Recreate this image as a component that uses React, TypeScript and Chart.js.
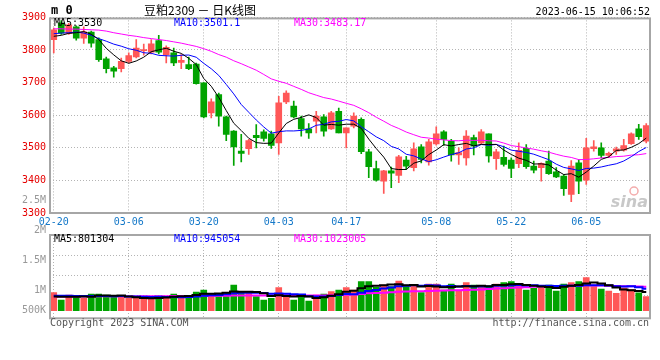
import { useEffect, useRef } from 'react';
import { Chart, registerables } from 'chart.js';

Chart.register(...registerables);

// ---------- data ----------
const dates = [
  '02-20', '02-21', '02-22', '02-23', '02-24', '02-27', '02-28',
  '03-01', '03-02', '03-03', '03-06', '03-07', '03-08', '03-09', '03-10',
  '03-13', '03-14', '03-15', '03-16', '03-17', '03-20', '03-21', '03-22',
  '03-23', '03-24', '03-27', '03-28', '03-29', '03-30', '03-31',
  '04-03', '04-04', '04-06', '04-07', '04-10', '04-11', '04-12', '04-13',
  '04-14', '04-17', '04-18', '04-19', '04-20', '04-21', '04-24', '04-25',
  '04-26', '04-27', '04-28',
  '05-04', '05-05', '05-08', '05-09', '05-10', '05-11', '05-12', '05-15',
  '05-16', '05-17', '05-18', '05-19', '05-22', '05-23', '05-24', '05-25',
  '05-26', '05-29', '05-30', '05-31',
  '06-01', '06-02', '06-05', '06-06', '06-07', '06-08', '06-09', '06-12',
  '06-13', '06-14', '06-15',
];

const opens = [
  3832, 3883, 3851, 3871, 3836, 3855, 3832, 3773, 3745, 3743,
  3765, 3779, 3798, 3793, 3829, 3786, 3791, 3762, 3755, 3757,
  3699, 3607, 3663, 3595, 3551, 3490, 3497, 3538, 3549, 3543,
  3515, 3641, 3628, 3590, 3558, 3582, 3595, 3558, 3612, 3546,
  3566, 3587, 3488, 3436, 3398, 3429, 3415, 3462, 3439, 3503,
  3457, 3512, 3549, 3520, 3478, 3469, 3531, 3515, 3543, 3467,
  3471, 3462, 3451, 3498, 3444, 3439, 3459, 3426, 3413, 3357,
  3454, 3401, 3497, 3500, 3477, 3490, 3493, 3513, 3558, 3520,
];

const highs = [
  3867, 3890, 3882, 3874, 3871, 3858, 3837, 3778, 3750, 3775,
  3791, 3832, 3818, 3832, 3845, 3813, 3806, 3786, 3778, 3760,
  3700, 3650, 3668, 3597, 3553, 3541, 3526, 3571, 3555, 3551,
  3658, 3675, 3643, 3597, 3574, 3612, 3602, 3612, 3622, 3561,
  3607, 3592, 3495, 3459, 3431, 3441, 3477, 3474, 3515, 3510,
  3526, 3564, 3553, 3526, 3500, 3553, 3539, 3556, 3543, 3495,
  3505, 3469, 3515, 3510, 3459, 3454, 3490, 3439, 3418, 3461,
  3464, 3529, 3522, 3515, 3487, 3502, 3526, 3546, 3572, 3574,
];

const lows = [
  3791, 3848, 3848, 3830, 3820, 3809, 3765, 3730, 3717, 3733,
  3760, 3776, 3784, 3788, 3788, 3760, 3752, 3743, 3740, 3695,
  3592, 3592, 3566, 3522, 3446, 3457, 3480, 3500, 3520, 3498,
  3480, 3635, 3592, 3536, 3529, 3546, 3536, 3556, 3546, 3500,
  3561, 3482, 3408, 3398, 3360, 3378, 3393, 3434, 3429, 3454,
  3447, 3508, 3507, 3459, 3449, 3447, 3478, 3512, 3456, 3434,
  3444, 3408, 3439, 3437, 3423, 3398, 3418, 3408, 3354, 3335,
  3359, 3388, 3490, 3470, 3470, 3480, 3490, 3510, 3526, 3515,
];

const closes = [
  3862, 3852, 3877, 3836, 3856, 3821, 3770, 3743, 3735, 3765,
  3783, 3806, 3801, 3819, 3793, 3808, 3760, 3768, 3743, 3697,
  3595, 3641, 3597, 3541, 3503, 3483, 3522, 3531, 3529, 3507,
  3638, 3668, 3595, 3558, 3546, 3597, 3551, 3607, 3546, 3561,
  3597, 3488, 3442, 3401, 3429, 3422, 3472, 3444, 3497, 3464,
  3518, 3543, 3526, 3478, 3485, 3536, 3505, 3549, 3475, 3488,
  3449, 3437, 3492, 3442, 3431, 3452, 3421, 3411, 3375, 3444,
  3398, 3500, 3503, 3477, 3483, 3497, 3507, 3543, 3534, 3568,
];

const volumes = [
  774000, 460000, 675000, 602000, 529000, 718000, 718000, 675000, 576000, 576000,
  529000, 529000, 529000, 529000, 632000, 602000, 718000, 602000, 632000, 804000,
  890000, 718000, 675000, 748000, 1105000, 817000, 748000, 602000, 460000, 529000,
  989000, 602000, 460000, 602000, 417000, 675000, 718000, 817000, 890000, 989000,
  890000, 1247000, 1247000, 1006000, 1105000, 1032000, 1277000, 1032000, 1105000, 774000,
  1148000, 1148000, 890000, 1148000, 890000, 1204000, 1105000, 1006000, 1062000, 1148000,
  1204000, 1247000, 1062000, 890000, 963000, 1062000, 1105000, 847000, 1148000, 1204000,
  1247000, 1419000, 1032000, 933000, 847000, 750000, 975000, 905000, 765000, 610000,
];

// moving-average values before enough history is visible
const ma5Head = [3842, 3845, 3851, 3853];
const ma10Head = [3850, 3852, 3853, 3855, 3852, 3845, 3835, 3827, 3818];
const ma30Head = [
  3865, 3865, 3864, 3864, 3863, 3862, 3861, 3858, 3853, 3849,
  3845, 3842, 3838, 3835, 3832, 3829, 3825, 3821, 3816, 3811,
  3804, 3796, 3786, 3778, 3767, 3758, 3748, 3738, 3725,
];
const vma5Head = [610000, 600000, 600000, 595000];
const vma10Head = [640000, 640000, 638000, 635000, 632000, 630000, 630000, 628000, 625000];
const vma30Head = [
  615000, 612000, 610000, 612000, 615000, 618000, 620000, 620000, 618000, 616000,
  615000, 614000, 616000, 618000, 622000, 625000, 628000, 630000, 632000, 635000,
  640000, 642000, 645000, 648000, 650000, 652000, 650000, 652000, 655000,
];

const priceTicks = [3300, 3400, 3500, 3600, 3700, 3800, 3900];
const xTickLabels = ['02-20', '03-06', '03-20', '04-03', '04-17', '05-08', '05-22', '06-05'];
const volTickLabels = ['2.5M', '2M', '1.5M', '1M', '500K'];

const titleText = '豆粕2309 － 日K线图';
const modeText = 'm 0';
const timeText = '2023-06-15 10:06:52';
const priceLegend = ['MA5:3530', 'MA10:3501.1', 'MA30:3483.17'];
const volLegend = ['MA5:801304', 'MA10:945054', 'MA30:1023005'];
const copyrightText = 'Copyright 2023 SINA.COM';
const urlText = 'http://finance.sina.com.cn';

// ---------- helpers ----------
function movingAvg(values: number[], n: number, head: number[]): number[] {
  return values.map((_, i) => {
    if (i < head.length) return head[i];
    let s = 0;
    for (let k = i - n + 1; k <= i; k++) s += values[k];
    return s / n;
  });
}

const RED = '#ff5757';
const GREEN = '#00a300';
const MONO = '"DejaVu Sans Mono", monospace';
const GRID = '#b4b4b4';
const FRAME = '#a6a6a6';
const MA_COLORS = ['#000000', '#0000ff', '#ff00ff'];

const candleColors = closes.map((c, i) => (c >= opens[i] ? RED : GREEN));
const isLabeled = (i: number) => xTickLabels.includes(dates[i]);

export default function App() {
  const priceRef = useRef<HTMLCanvasElement>(null);
  const volRef = useRef<HTMLCanvasElement>(null);

  useEffect(() => {
    const ma5 = movingAvg(closes, 5, ma5Head);
    const ma10 = movingAvg(closes, 10, ma10Head);
    const ma30 = movingAvg(closes, 30, ma30Head);
    const vma5 = movingAvg(volumes, 5, vma5Head);
    const vma10 = movingAvg(volumes, 10, vma10Head);
    const vma30 = movingAvg(volumes, 30, vma30Head);

    const priceDecor = {
      id: 'priceDecor',
      afterDraw(chart: any) {
        const { ctx, chartArea: a } = chart;
        ctx.save();
        ctx.setLineDash([]);
        ctx.strokeStyle = FRAME;
        ctx.lineWidth = 2;
        ctx.strokeRect(a.left, a.top + 1, a.right - a.left, a.bottom - a.top - 1);

        ctx.textBaseline = 'middle';
        ctx.fillStyle = '#000';
        ctx.textAlign = 'left';
        ctx.font = 'bold 12px ' + MONO;
        ctx.fillText(modeText, 51, 11);

        ctx.textAlign = 'center';
        ctx.font = '12px "Noto Sans CJK SC", sans-serif';
        ctx.fillText(titleText, 200, 10);

        ctx.textAlign = 'right';
        ctx.font = '10px ' + MONO;
        ctx.fillText(timeText, 650, 12);

        ctx.textAlign = 'left';
        priceLegend.forEach((t, k) => {
          ctx.fillStyle = MA_COLORS[k];
          ctx.fillText(t, a.left + 4 + 120 * k, a.top + 6.5);
        });

        // watermark
        ctx.textAlign = 'right';
        ctx.font = 'italic bold 16px "DejaVu Sans", sans-serif';
        ctx.fillStyle = 'rgba(190,190,190,0.85)';
        ctx.fillText('sina', a.right - 2, a.bottom - 10);
        ctx.beginPath();
        ctx.strokeStyle = 'rgba(240,150,150,0.8)';
        ctx.lineWidth = 1.5;
        ctx.arc(a.right - 16, a.bottom - 22, 4, 0, Math.PI * 2);
        ctx.stroke();
        ctx.restore();
      },
    };

    const volDecor = {
      id: 'volDecor',
      afterDraw(chart: any) {
        const { ctx, chartArea: a } = chart;
        ctx.save();
        ctx.setLineDash([]);
        ctx.strokeStyle = FRAME;
        ctx.lineWidth = 2;
        ctx.strokeRect(a.left, a.top, a.right - a.left, a.bottom - a.top);

        ctx.textBaseline = 'middle';
        ctx.font = '10px ' + MONO;
        ctx.textAlign = 'left';
        volLegend.forEach((t, k) => {
          ctx.fillStyle = MA_COLORS[k];
          ctx.fillText(t, a.left + 4 + 120 * k, a.top + 4);
        });

        ctx.textAlign = 'right';
        ctx.fillStyle = '#999';
        const offs = [-34.5, -5, 25.5, 55.5, 75];
        volTickLabels.forEach((t, k) => ctx.fillText(t, a.left - 4, a.top + offs[k]));

        ctx.fillStyle = '#555';
        ctx.textAlign = 'left';
        ctx.fillText(copyrightText, a.left, a.bottom + 5.5);
        ctx.textAlign = 'right';
        ctx.fillText(urlText, a.right - 1, a.bottom + 5.5);
        ctx.restore();
      },
    };

    const xGrid = {
      offset: false,
      drawTicks: false,
      lineWidth: 1,
      color: (c: any) => (isLabeled(c.index) ? GRID : 'rgba(0,0,0,0)'),
    };

    const pc = new Chart(priceRef.current!, {
      type: 'bar',
      data: {
        labels: dates,
        datasets: [
          { type: 'line', label: 'MA5', data: ma5, borderColor: MA_COLORS[0], borderWidth: 1, pointRadius: 0, tension: 0, order: 0 },
          { type: 'line', label: 'MA10', data: ma10, borderColor: MA_COLORS[1], borderWidth: 1, pointRadius: 0, tension: 0, order: 0 },
          { type: 'line', label: 'MA30', data: ma30, borderColor: MA_COLORS[2], borderWidth: 1, pointRadius: 0, tension: 0, order: 0 },
          {
            type: 'bar', label: 'body', data: opens.map((o, i) => [o, closes[i]]),
            backgroundColor: candleColors, borderWidth: 0, barThickness: 6, grouped: false, minBarLength: 1, order: 1,
          },
          {
            type: 'bar', label: 'wick', data: lows.map((l, i) => [l, highs[i]]),
            backgroundColor: candleColors, borderWidth: 0, barThickness: 1, grouped: false, order: 2,
          },
        ] as any,
      },
      options: {
        responsive: false,
        animation: false,
        events: [],
        layout: { padding: { top: 17.4, right: 10, left: 0, bottom: 0 } },
        plugins: { legend: { display: false }, tooltip: { enabled: false } },
        scales: {
          x: {
            type: 'category',
            offset: true,
            grid: xGrid as any,
            border: { display: false, dash: [1, 2] },
            ticks: {
              autoSkip: false, maxRotation: 0, minRotation: 0, padding: 3,
              color: '#1478c8', font: { family: MONO, size: 10 },
              callback: (_v: any, i: number) => (isLabeled(i) ? dates[i] : ''),
            },
            afterFit: (s: any) => { s.height = 22; },
          },
          y: {
            type: 'linear',
            min: 3300,
            max: 3900,
            afterBuildTicks: (s: any) => { s.ticks = priceTicks.map((v) => ({ value: v })); },
            grid: { drawTicks: false, color: GRID, lineWidth: 1 },
            border: { display: false, dash: [1, 2] },
            ticks: { padding: 4, color: '#e60000', font: { family: MONO, size: 10 }, callback: (v: any) => String(v) },
            afterFit: (s: any) => { s.width = 50; },
          },
        },
      } as any,
      plugins: [priceDecor],
    });

    const volHeight = 83.3;
    const vc = new Chart(volRef.current!, {
      type: 'bar',
      data: {
        labels: dates,
        datasets: [
          { type: 'line', label: 'MA5', data: vma5, borderColor: MA_COLORS[0], borderWidth: 2, pointRadius: 0, stepped: 'middle', order: 0 },
          { type: 'line', label: 'MA10', data: vma10, borderColor: MA_COLORS[1], borderWidth: 2, pointRadius: 0, stepped: 'middle', order: 0 },
          { type: 'line', label: 'MA30', data: vma30, borderColor: MA_COLORS[2], borderWidth: 2, pointRadius: 0, stepped: 'middle', order: 0 },
          {
            type: 'bar', label: 'vol', data: volumes, backgroundColor: candleColors,
            borderWidth: 0, barThickness: 6, grouped: false, order: 1,
          },
        ] as any,
      },
      options: {
        responsive: false,
        animation: false,
        events: [],
        layout: { padding: { top: 45, right: 10, left: 0, bottom: 21.7 } },
        plugins: { legend: { display: false }, tooltip: { enabled: false } },
        scales: {
          x: {
            type: 'category',
            offset: true,
            grid: xGrid as any,
            border: { display: false, dash: [1, 2] },
            ticks: { display: false, autoSkip: false },
            afterFit: (s: any) => { s.height = 0; },
          },
          y: {
            type: 'linear',
            min: -326800,
            max: 3255100,
            afterBuildTicks: (s: any) => {
              const span = s.max - s.min;
              s.ticks = [20, 40, 60].map((px) => ({ value: s.max - (span * px) / volHeight }));
            },
            grid: { drawTicks: false, color: GRID, lineWidth: 1 },
            border: { display: false, dash: [1, 2] },
            ticks: { display: false },
            afterFit: (s: any) => { s.width = 50; },
          },
        },
      } as any,
      plugins: [volDecor],
    });

    return () => {
      pc.destroy();
      vc.destroy();
    };
  }, []);

  return (
    <div style={{ position: 'fixed', left: 0, top: 0, width: 660, height: 360, background: '#fff' }}>
      <canvas ref={priceRef} width={660} height={235} style={{ position: 'absolute', left: 0, top: 0 }} />
      <canvas ref={volRef} width={660} height={150} style={{ position: 'absolute', left: 0, top: 190 }} />
    </div>
  );
}
